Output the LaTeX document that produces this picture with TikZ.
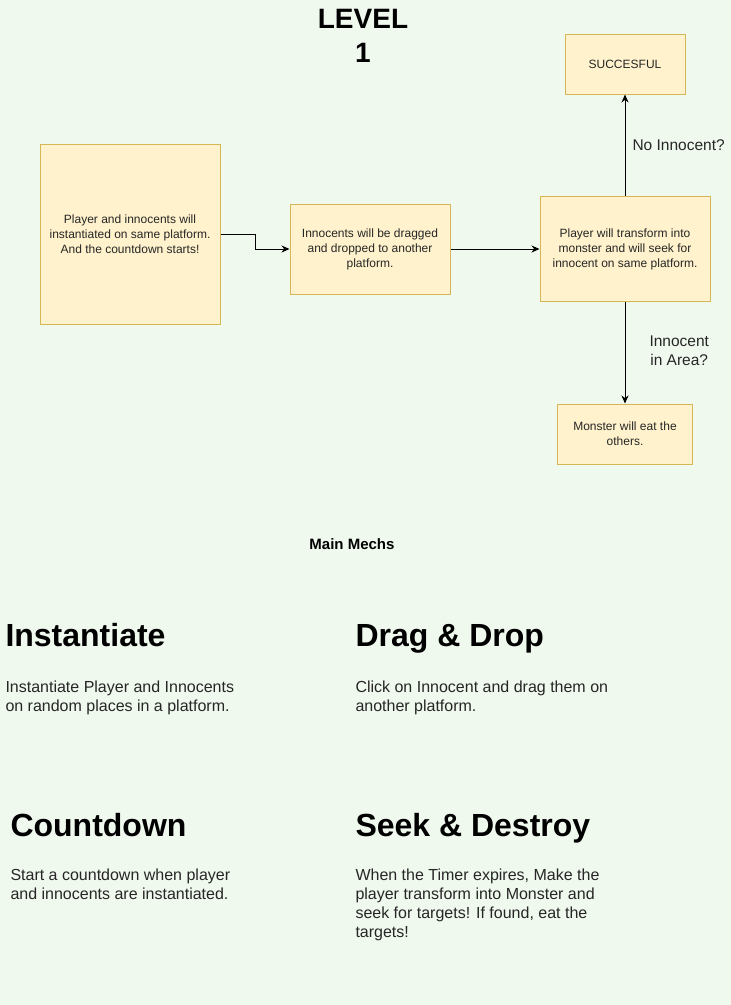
\documentclass[tikz,border=0pt]{standalone}
\usepackage{fontspec}
\setmainfont{Liberation Sans}
\usepackage{xcolor}
\usetikzlibrary{arrows.meta}
\definecolor{bgcol}{HTML}{F0F9EE}
\definecolor{boxfill}{HTML}{FFF2CC}
\definecolor{boxline}{HTML}{D6B656}
\begin{document}
\begin{tikzpicture}[x=1pt, y=-1pt, >={Stealth[length=8pt,width=7pt]}, line width=1pt,
main node/.style={draw=boxline, fill=boxfill, align=center, inner sep=0pt, text=black!85, font=\fontsize{12}{15}\selectfont},
label node/.style={align=center, inner sep=0pt, text=black!85, font=\fontsize{15.5}{19}\selectfont},
head node/.style={anchor=base west, inner sep=0pt, font=\bfseries\fontsize{32}{38}\selectfont},
body node/.style={anchor=north west, align=left, inner sep=0pt, text=black!85, font=\fontsize{16}{19}\selectfont}]
\fill[bgcol] (0,0) rectangle (731,1005);
\useasboundingbox (0,0) rectangle (731,1005);
\node[align=center, inner sep=0pt, font=\bfseries\fontsize{28}{34}\selectfont] (0) at (363,36) {LEVEL\\1};
\node[main node, minimum width=180pt, minimum height=180pt] (1) at (130,234) {Player and innocents will\\instantiated on same platform.\\And the countdown starts!};
\node[main node, minimum width=160pt, minimum height=90pt] (2) at (370,249) {Innocents will be dragged\\and dropped to another\\platform.};
\node[main node, minimum width=170pt, minimum height=105pt] (3) at (625,249) {Player will transform into\\monster and will seek for\\innocent on same platform.};
\node[main node, minimum width=120pt, minimum height=60pt] (4) at (625,64) {SUCCESFUL};
\node[main node, minimum width=135pt, minimum height=60pt] (5) at (625,434) {Monster will eat the\\others.};
\draw[->] (1.east) -- ++(35,0) |- (2.west);
\path[->]
(2) edge (3)
(3) edge node[label node, right=7pt] {No Innocent?} (4)
(3) edge node[label node, right=24pt, yshift=2pt] {Innocent\\in Area?} (5);
\node[inner sep=0pt, font=\bfseries\fontsize{15}{18}\selectfont] (6) at (352,544) {Main Mechs};
\node[head node] (7) at (5,646) {Instantiate};
\node[body node] (8) at (5,680) {Instantiate Player and Innocents\\on random places in a platform.};
\node[head node] (9) at (355,646) {Drag \& Drop};
\node[body node] (10) at (355,680) {Click on Innocent and drag them on\\another platform.};
\node[head node] (11) at (10,836) {Countdown};
\node[body node] (12) at (10,868) {Start a countdown when player\\and innocents are instantiated.};
\node[head node] (13) at (355,836) {Seek \& Destroy};
\node[body node] (14) at (355,868) {When the Timer expires, Make the\\player transform into Monster and\\seek for targets! If found, eat the\\targets!};
\end{tikzpicture}
\end{document}
